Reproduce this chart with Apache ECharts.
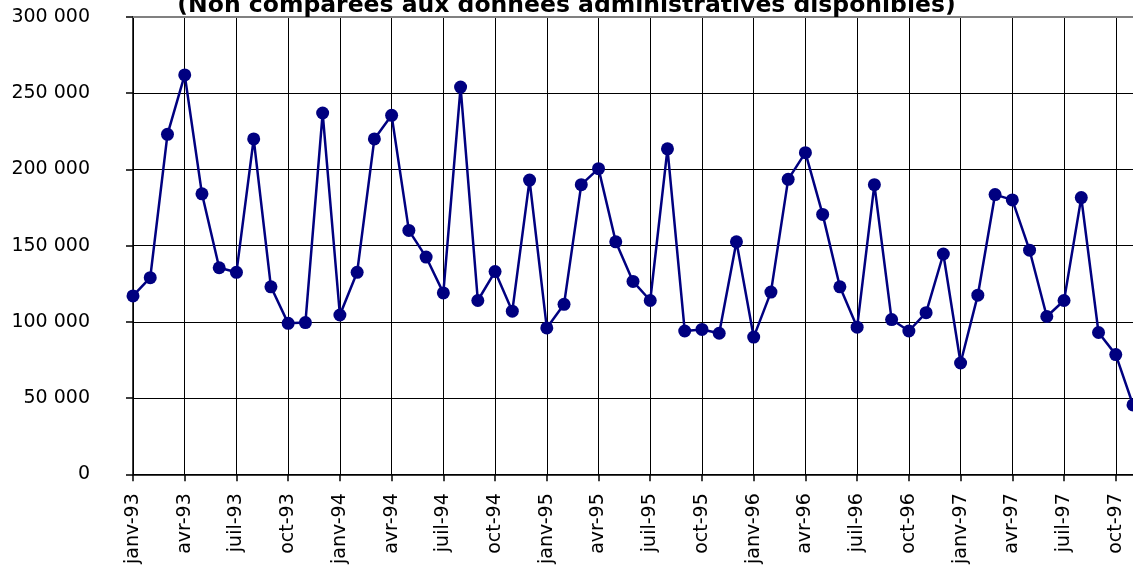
<!DOCTYPE html>
<html><head><meta charset="utf-8">
<script src="https://cdn.jsdelivr.net/npm/echarts@6/dist/echarts.min.js"></script>
<style>html,body{margin:0;padding:0;background:#fff;overflow:hidden;} #chart{width:1133px;height:567px;}</style>
</head><body><div id="chart"></div>
<script>
const titleText = '(Non comparées aux données administratives disponibles)';
const monthNames = ['janv','févr','mars','avr','mai','juin','juil','août','sept','oct','nov','déc'];
const years = ['93','94','95','96','97'];
const values1993 = [117000, 129000, 223000, 262000, 184000, 135500, 132500, 220000, 123000, 99000, 99500, 237000];
const values1994 = [104500, 132500, 220000, 235500, 160000, 142500, 119000, 254000, 114000, 133000, 107000, 193000];
const values1995 = [96000, 111500, 190000, 200500, 152500, 126500, 114000, 213500, 94000, 95000, 92500, 152500];
const values1996 = [90000, 119500, 193500, 211000, 170500, 123000, 96500, 190000, 101500, 94000, 106000, 144500];
const values1997 = [73000, 117500, 183500, 180000, 147000, 103500, 114000, 181500, 93000, 78500, 45500];
const yTickValues = [0, 50000, 100000, 150000, 200000, 250000, 300000];

const values = [].concat(values1993, values1994, values1995, values1996, values1997);
const categories = [];
years.forEach(y => monthNames.forEach(m => categories.push(m + '-' + y)));
const cats = categories.slice(0, values.length);

function fmt(v) { return String(v).replace(/\B(?=(\d{3})+(?!\d))/g, '\u00a0'); }

const chart = echarts.init(document.getElementById('chart'), null, {renderer: 'canvas'});
chart.setOption({
  animation: false,
  backgroundColor: '#ffffff',
  title: {
    text: titleText,
    left: 'center',
    top: -11,
    padding: [5, 5, 5, 16],
    textStyle: {fontFamily: 'DejaVu Sans', fontWeight: 'bold', fontSize: 23.5, color: '#000'}
  },
  grid: {left: 133, top: 17, width: 1003, height: 461, containLabel: false},
  xAxis: [{
    type: 'category',
    data: cats,
    boundaryGap: false,
    axisLine: {show: true, lineStyle: {color: '#000', width: 1.5}},
    axisTick: {show: true, interval: 2, length: 7, lineStyle: {color: '#000', width: 1.5}},
    axisLabel: {interval: 2, rotate: 90, margin: 19, fontFamily: 'DejaVu Sans', fontSize: 19, color: '#000'},
    splitLine: {show: true, interval: 2, lineStyle: {color: '#000', width: 1}}
  }, {
    type: 'category',
    data: cats,
    position: 'top',
    boundaryGap: false,
    axisLine: {show: true, lineStyle: {color: '#808080', width: 2}},
    axisTick: {show: false},
    axisLabel: {show: false},
    splitLine: {show: false}
  }],
  yAxis: {
    type: 'value',
    min: 0, max: 300000, interval: 50000,
    axisLine: {show: true, lineStyle: {color: '#000', width: 1.5}},
    axisTick: {show: true, length: 7, lineStyle: {color: '#000', width: 1.5}},
    axisLabel: {margin: 43, fontFamily: 'DejaVu Sans', fontSize: 19, color: '#000',
      formatter: v => fmt(yTickValues[yTickValues.indexOf(v)])},
    splitLine: {show: true, lineStyle: {color: '#000', width: 1}}
  },
  series: [{
    type: 'line',
    data: values,
    symbol: 'circle',
    symbolSize: 13,
    showSymbol: true,
    showAllSymbol: true,
    clip: false,
    color: '#000080',
    lineStyle: {color: '#000080', width: 2.5},
    itemStyle: {color: '#000080'}
  }]
});
</script></body></html>
